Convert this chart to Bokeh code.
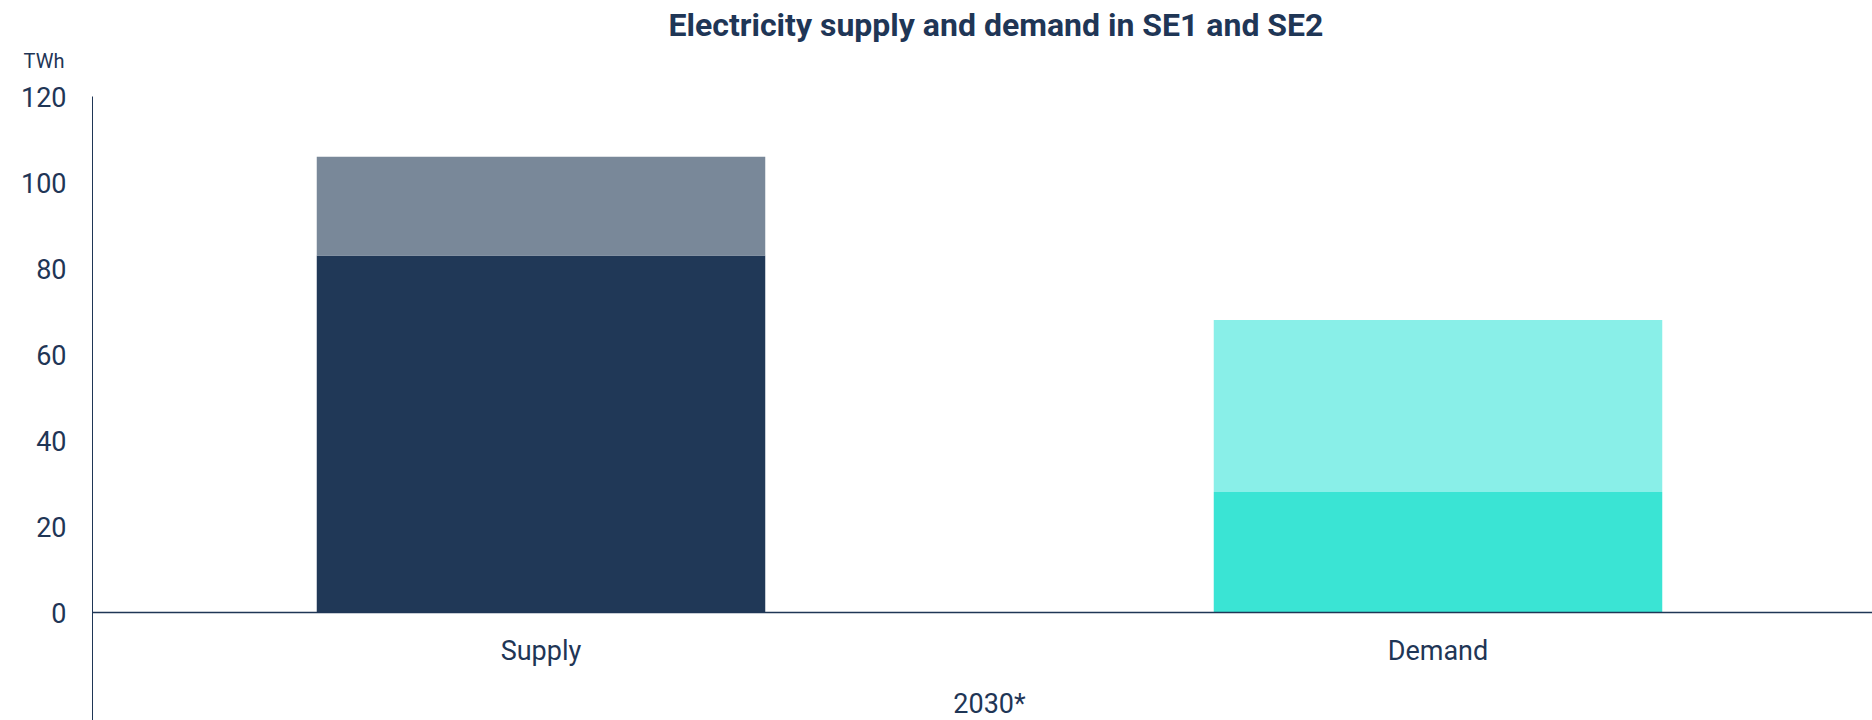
from bokeh.plotting import figure
from bokeh.models import ColumnDataSource, Range1d, FixedTicker, Label
from bokeh.embed import file_html
from bokeh.resources import INLINE

# ---- data ----
categories = ["Supply", "Demand"]
base_values = [83, 28]          # lower segment (TWh)
upper_values = [23, 40]         # upper segment (TWh)
base_colors = ["#203857", "#3ae4d4"]
upper_colors = ["#798899", "#89efe8"]
y_ticks = [0, 20, 40, 60, 80, 100, 120]
group_label = "2030*"
title_text = "Electricity supply and demand in SE1 and SE2"
unit_label = "TWh"

TEXT = "#1f3656"
FONT = "Roboto"

xpos = [i + 0.5 for i in range(len(categories))]
totals = [b + u for b, u in zip(base_values, upper_values)]

src = ColumnDataSource(dict(x=xpos, base=base_values, total=totals,
                            bc=base_colors, uc=upper_colors))

W, H = 1872, 720
FRAME_TOP = 45
PX_PER_CAT = 897.0
X0_PX = 92.0          # screen x of category-axis origin
PX_PER_UNIT = 4.3
Y0_PX = 612.0         # screen y of value 0

x_start = -X0_PX / PX_PER_CAT
x_end = (W - X0_PX) / PX_PER_CAT
y_end = (Y0_PX - FRAME_TOP) / PX_PER_UNIT
y_start = (Y0_PX - H) / PX_PER_UNIT

p = figure(width=W, height=H, output_backend="svg", toolbar_location=None,
           x_range=Range1d(x_start, x_end), y_range=Range1d(y_start, y_end),
           title=title_text)
p.min_border_left = 0
p.min_border_right = 0
p.min_border_bottom = 0
p.min_border_top = FRAME_TOP
p.outline_line_color = None
p.background_fill_color = "white"
p.border_fill_color = "white"
p.xgrid.visible = False
p.ygrid.visible = False

p.title.align = "left"
p.title.offset = 668
p.title.text_font = FONT
p.title.text_font_size = "32px"
p.title.text_font_style = "bold"
p.title.text_color = TEXT
p.title.standoff = 4

p.vbar(x="x", width=0.5, bottom=0, top="base", source=src,
       fill_color="bc", line_color=None)
p.vbar(x="x", width=0.5, bottom="base", top="total", source=src,
       fill_color="uc", line_color=None)

# y axis at x = 0 (inside the frame)
ya = p.yaxis[0]
ya.fixed_location = 0
ya.bounds = (y_start, max(y_ticks))
ya.ticker = FixedTicker(ticks=y_ticks)
ya.major_tick_line_color = None
ya.minor_tick_line_color = None
ya.axis_line_color = TEXT
ya.axis_line_width = 1
ya.major_label_text_font = FONT
ya.major_label_text_font_size = "27px"
ya.major_label_text_color = TEXT
ya.major_label_standoff = 20

# x axis at y = 0
xa = p.xaxis[0]
xa.fixed_location = 0
xa.bounds = (0, x_end)
xa.ticker = FixedTicker(ticks=xpos)
xa.major_label_overrides = {x: c for x, c in zip(xpos, categories)}
xa.major_tick_line_color = None
xa.minor_tick_line_color = None
xa.axis_line_color = TEXT
xa.axis_line_width = 1.5
xa.major_label_text_font = FONT
xa.major_label_text_font_size = "27px"
xa.major_label_text_color = TEXT
xa.major_label_standoff = 16

p.add_layout(Label(x=1.0, y=(Y0_PX - 703) / PX_PER_UNIT, text=group_label,
                   text_align="center", text_baseline="middle", text_font=FONT,
                   text_font_size="27px", text_color=TEXT))
p.add_layout(Label(x=(43.5 - X0_PX) / PX_PER_CAT, y=(Y0_PX - 60) / PX_PER_UNIT,
                   text=unit_label, text_align="center", text_baseline="middle",
                   text_font=FONT, text_font_size="20px", text_color=TEXT))

open("out.html", "w").write(file_html(p, INLINE))
